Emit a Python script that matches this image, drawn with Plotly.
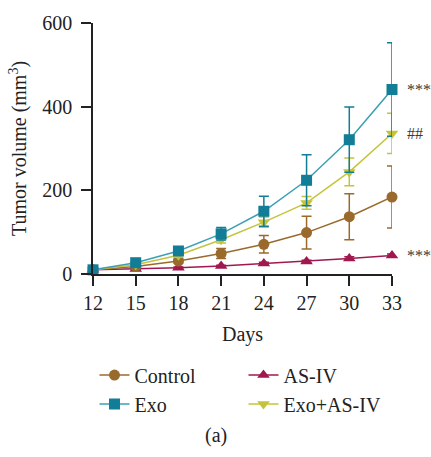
import plotly.graph_objects as go

days = [12, 15, 18, 21, 24, 27, 30, 33]
control = [10, 18, 31, 49, 71, 99, 137, 184]
control_err = [0, 3, 5, 12, 21, 39, 55, 74]
exo = [10, 27, 55, 96, 150, 224, 321, 441]
exo_err = [0, 4, 6, 15, 36, 61, 78, 112]
asiv = [10, 12, 15, 19, 25, 30, 37, 44]
asiv_err = [0, 1, 2, 2, 3, 3, 4, 4]
combo = [10, 22, 45, 82, 124, 170, 244, 336]
combo_err = [0, 3, 5, 8, 12, 15, 33, 48]
annotations_txt = {"Exo": "***", "Exo+AS-IV": "##", "AS-IV": "***"}

FONT = "Liberation Serif"
series = [
    ("AS-IV", asiv, asiv_err, "#a0184f", "#a0184f", "triangle-up", 2),
    ("Control", control, control_err, "#9a6a2d", "#9a6a2d", "circle", 1),
    ("Exo+AS-IV", combo, combo_err, "#c4c43c", "#c4c43c", "triangle-down", 4),
    ("Exo", exo, exo_err, "#3c9fb6", "#127d97", "square", 3),
]

fig = go.Figure()
for name, vals, err, lc, mc, sym, rank in series:
    fig.add_trace(go.Scatter(
        x=days, y=vals, name=name, mode="lines+markers",
        line=dict(color=lc, width=1.5),
        marker=dict(symbol=sym, size=11, color=mc),
        error_y=dict(type="data", array=err, color=mc, thickness=1.5, width=5),
        legendrank=rank, cliponaxis=False,
    ))

for name, vals, *_ in series:
    if name in annotations_txt:
        fig.add_annotation(x=33, y=vals[-1], text=annotations_txt[name],
                           xanchor="left", yanchor="middle", xshift=13, showarrow=False,
                           font=dict(family=FONT, size=16, color="#3a3a3a"))

fig.add_annotation(x=0.41, y=-0.642, xref="paper", yref="paper", text="(a)",
                   xanchor="center", yanchor="middle",
                   showarrow=False, font=dict(family=FONT, size=20, color="#222"))

fig.update_layout(
    width=431, height=457,
    margin=dict(l=93, r=39, t=20, b=183),
    paper_bgcolor="white", plot_bgcolor="white",
    font=dict(family=FONT, size=20, color="#222"),
    showlegend=True,
    legend=dict(orientation="h", x=0.005, y=-0.325, xanchor="left", yanchor="top",
                entrywidth=104, entrywidthmode="pixels",
                font=dict(family=FONT, size=20, color="#222"), traceorder="normal"),
    xaxis=dict(range=[12, 33], tickvals=days, showline=True, linecolor="#222",
               linewidth=1.5, ticks="outside", ticklen=10, tickwidth=1.5,
               tickcolor="#222", showgrid=False, zeroline=False,
               tickfont=dict(family=FONT, size=20),
               title=dict(text="Days", standoff=14, font=dict(family=FONT, size=20))),
    yaxis=dict(range=[0, 600], tickvals=[0, 200, 400, 600], showline=True,
               linecolor="#222", linewidth=1.5, ticks="outside", ticklen=10,
               tickwidth=1.5, tickcolor="#222", showgrid=False, zeroline=False,
               tickfont=dict(family=FONT, size=20), ticklabelstandoff=5,
               title=dict(text="Tumor volume (mm<sup>3</sup>)", standoff=10,
                          font=dict(family=FONT, size=20))),
)

fig.write_html("out.html")
